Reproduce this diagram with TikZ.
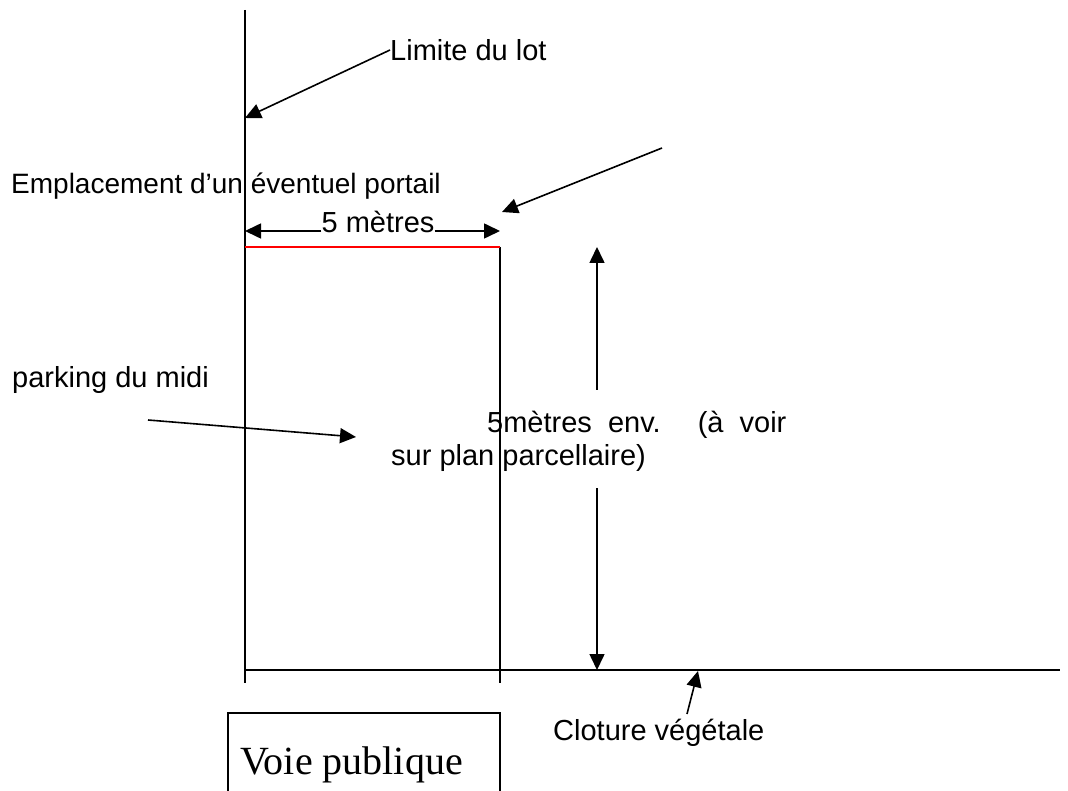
\documentclass[tikz,border=0pt]{standalone}
\usepackage{fontspec}
\setmainfont{Liberation Sans}
\newfontfamily\voiefont{Liberation Serif}
\usetikzlibrary{arrows.meta}
\pgfdeclarelayer{bg}
\pgfsetlayers{bg,main}
\tikzset{
    every node/.style={inner sep=0mm, font=\fontsize{29}{33}\selectfont},
    fleche/.style={line width=1.6pt, -{Triangle[length=16pt,width=15pt]}},
    trait/.style={line width=1.8pt},
}

\begin{document}
\begin{tikzpicture}[x=1pt,y=-1pt]
        \useasboundingbox (0,0) rectangle (1068,791);
        \clip (0,0) rectangle (1068,791);
        \coordinate (lotHaut) at (245,10);
        \coordinate (lotBas) at (245,683);
        \coordinate (lotFleche) at (245,118);
        \coordinate (portG) at (245,247);
        \coordinate (portD) at (500,247);
        \coordinate (sepBas) at (500,683);
        \coordinate (clotG) at (245,670);
        \coordinate (clotD) at (1060,670);
        \coordinate (cotG) at (245,231);
        \coordinate (cotD) at (500,231);
        \coordinate (portFleche) at (502,212);
        \coordinate (portDepart) at (662,148);
        \coordinate (vHaut) at (597,247);
        \coordinate (vHautFin) at (597,390);
        \coordinate (vBas) at (597,670);
        \coordinate (vBasDebut) at (597,488);
        \coordinate (parkDepart) at (148,420);
        \coordinate (parkFleche) at (356,437);
        \coordinate (clotDepart) at (687,714);
        \coordinate (clotFleche) at (698,671);
        \node (limite) [anchor=west] at (390,50) {Limite du lot};
        \node (portail) [anchor=west, font=\fontsize{28}{32}\selectfont] at (11,186) {Emplacement d’un éventuel portail};
        \node (cinq) at (378,222) {5 mètres};
        \node (parking) [anchor=west] at (12,380) {parking du midi};
        \node (env) [anchor=west] at (487,425) {5mètres\ \ env.\quad\ (à\ \ voir};
        \node (plan) [anchor=west] at (391,458) {sur plan parcellaire)};
        \node (cloture) [anchor=west] at (553,733) {Cloture végétale};
        \node (voie) [anchor=west, font=\voiefont\fontsize{40}{44}\selectfont] at (240,765) {Voie publique};
        \begin{pgfonlayer}{bg}
                \draw [trait] (lotHaut) -- (lotBas);
                \draw [line width=1.4pt] (portD) -- (sepBas);
                \draw [trait] (clotG) -- (clotD);
                \draw [trait, red] (portG) -- (portD);
                \draw [line width=1.4pt] (228,800) -- (228,713) -- (500,713) -- (500,800);
        \end{pgfonlayer}
        \draw [fleche] (limite.west) -- (lotFleche);
        \draw [fleche] (portDepart) -- (portFleche);
        \draw [fleche] (cinq.west |- cotG) -- (cotG);
        \draw [fleche] (cinq.east |- cotD) -- (cotD);
        \draw [fleche] (vHautFin) -- (vHaut);
        \draw [fleche] (vBasDebut) -- (vBas);
        \draw [fleche] (parkDepart) -- (parkFleche);
        \draw [fleche] (clotDepart) -- (clotFleche);
\end{tikzpicture}
\end{document}
